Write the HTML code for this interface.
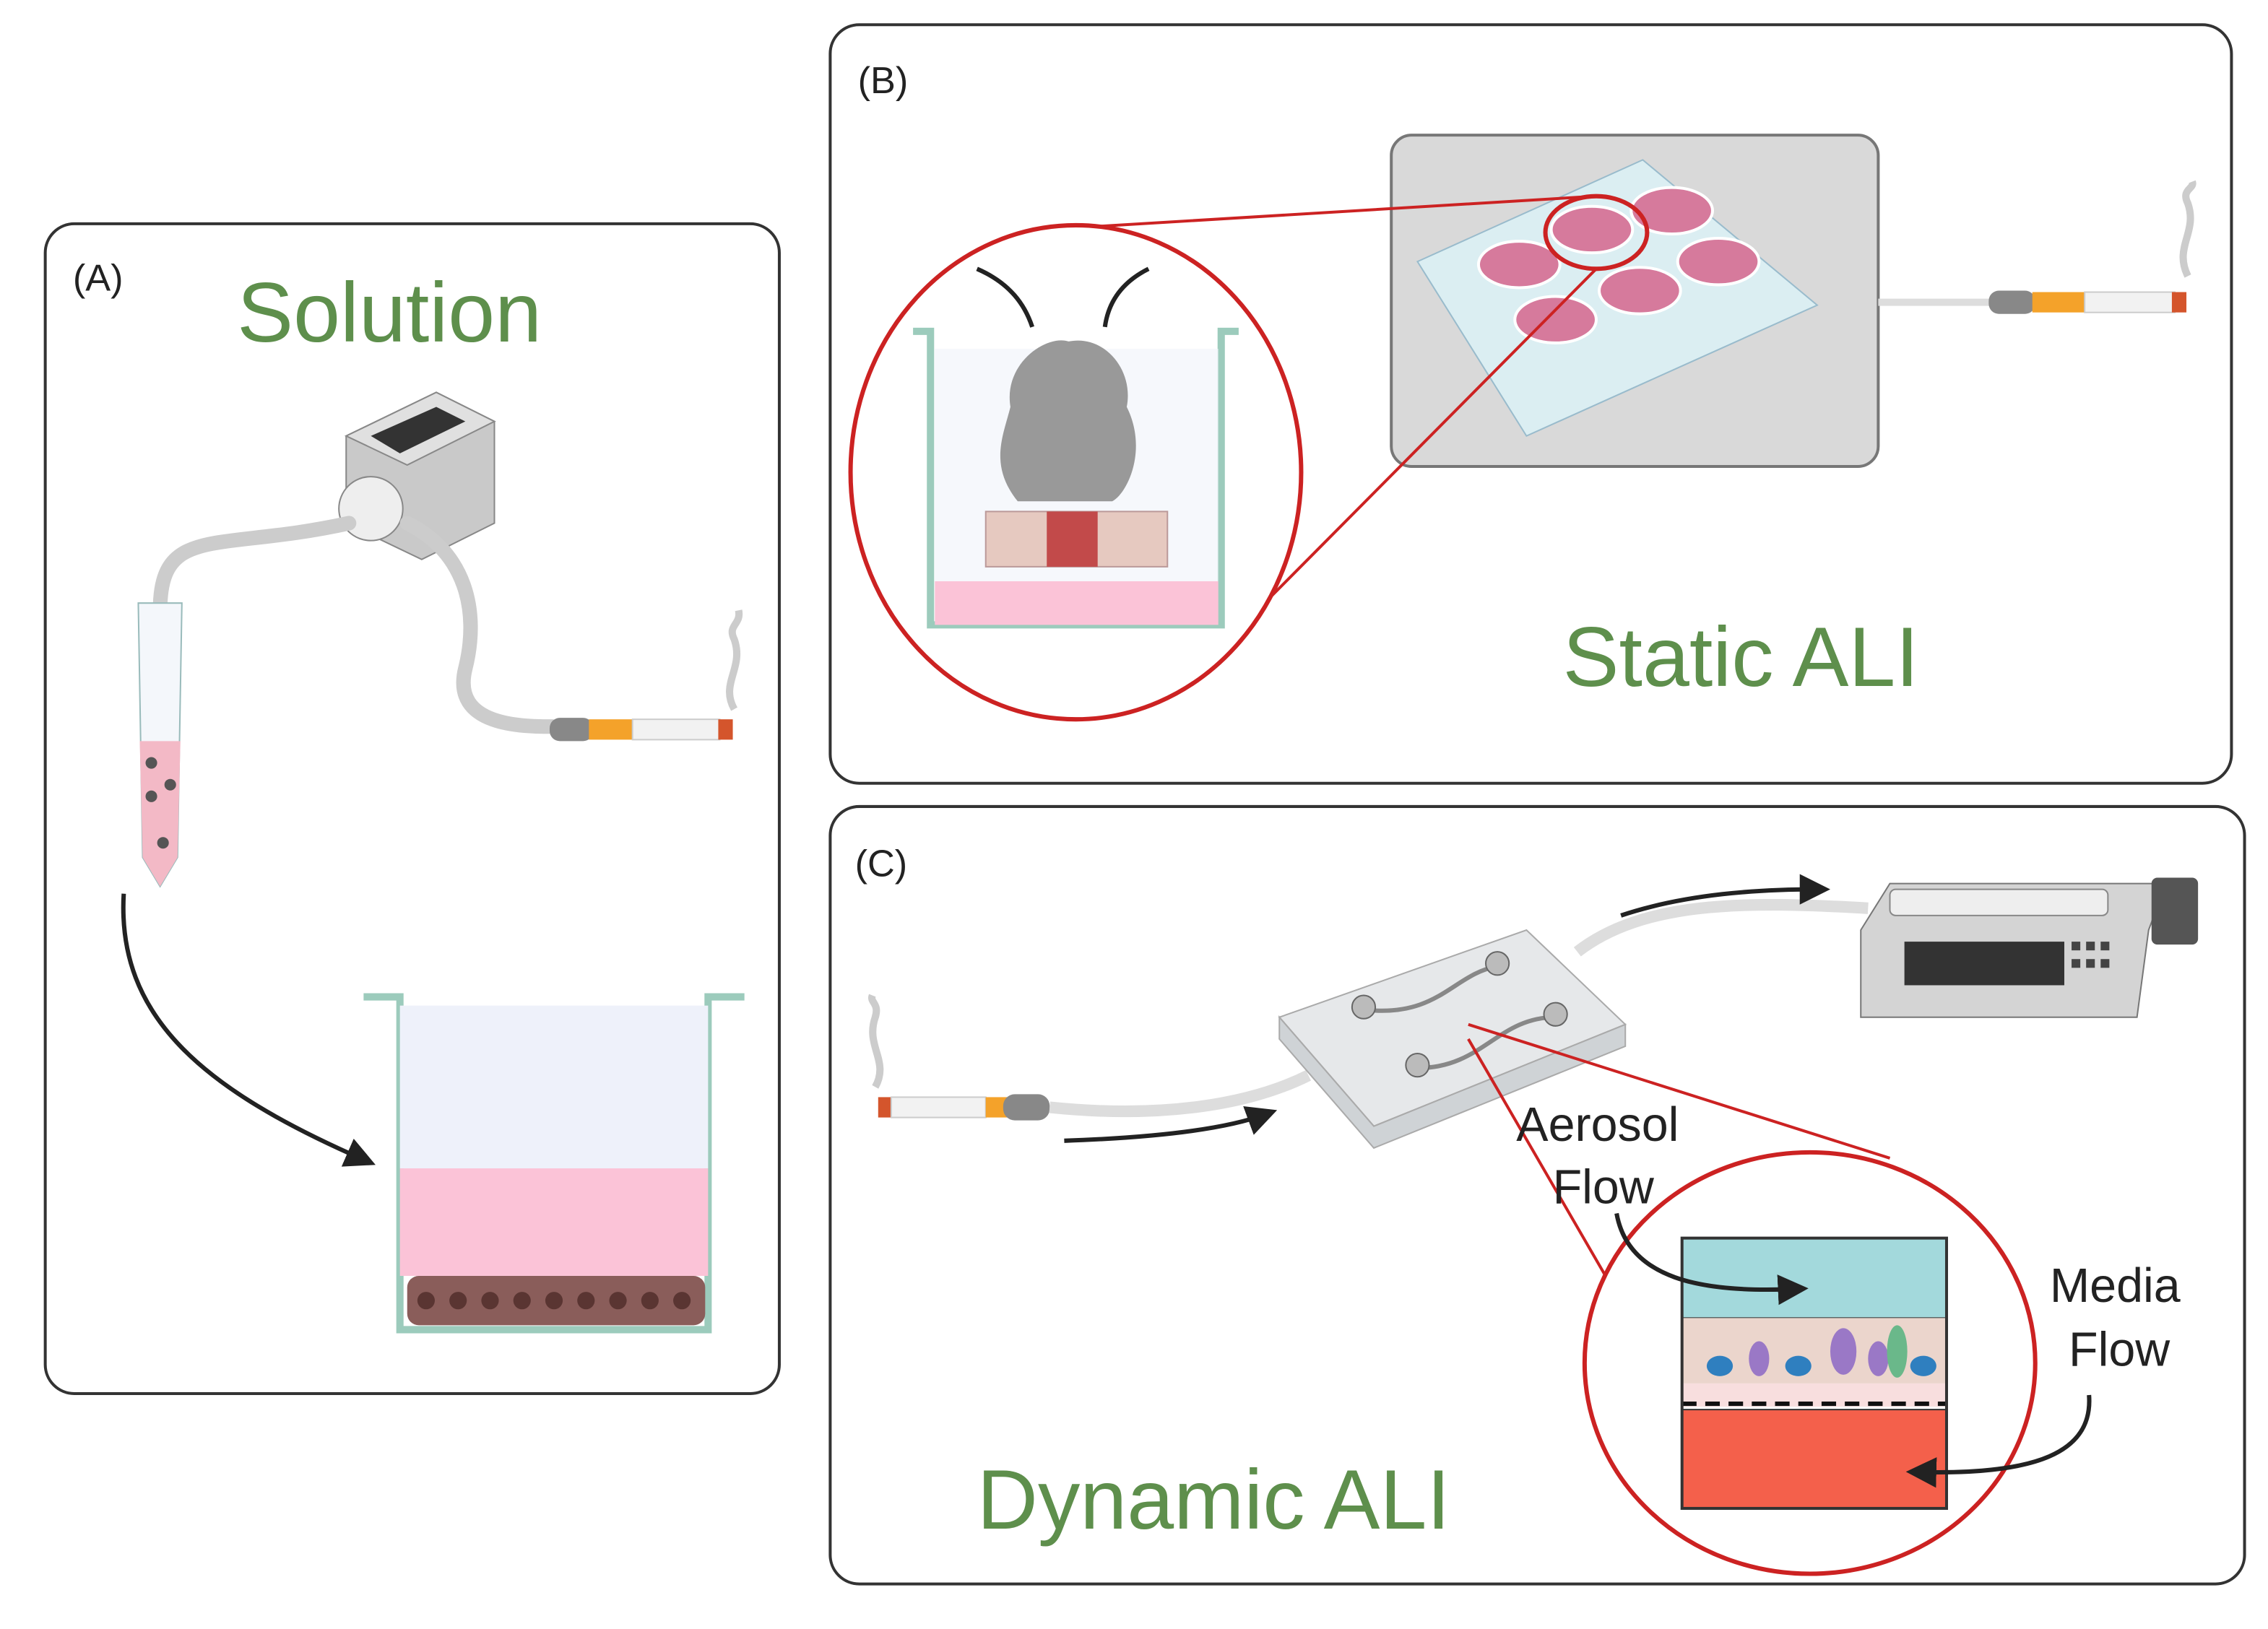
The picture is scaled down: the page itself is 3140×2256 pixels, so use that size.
<!DOCTYPE html>
<html><head><meta charset="utf-8"><style>
html,body{margin:0;padding:0;background:#fff;}
svg{display:block;}
text{font-family:"Liberation Sans",sans-serif;}
</style></head><body>
<svg width="3140" height="2256" viewBox="0 0 1560 1121" xmlns="http://www.w3.org/2000/svg">
<defs>
<marker id="ah" markerWidth="7" markerHeight="7" refX="4" refY="3.5" orient="auto" markerUnits="strokeWidth"><path d="M0,0 L7,3.5 L0,7 z" fill="#222"/></marker>
</defs>
<rect x="31" y="154" width="505" height="805" rx="20" fill="#fff" stroke="#333" stroke-width="2"/>
<rect x="571" y="17" width="964" height="522" rx="20" fill="#fff" stroke="#333" stroke-width="2"/>
<rect x="571" y="555" width="973" height="535" rx="20" fill="#fff" stroke="#333" stroke-width="2"/>

<text x="50" y="200" font-size="26" fill="#222">(A)</text>
<text x="163" y="235" font-size="58" fill="#5e8f4c">Solution</text>
<path d="M238,300 L300,270 L340,290 L340,360 L290,385 L238,360 Z" fill="#c9c9c9" stroke="#888"/>
<path d="M238,300 L300,270 L340,290 L280,320 Z" fill="#e0e0e0" stroke="#888"/>
<path d="M255,300 L300,280 L320,290 L275,312 Z" fill="#333"/>
<circle cx="255" cy="350" r="22" fill="#eee" stroke="#888"/>
<path d="M110,420 C110,360 150,380 240,360 M280,360 C320,380 330,420 320,460 C310,500 360,500 380,500" stroke="#ccc" stroke-width="10" fill="none" stroke-linecap="round"/>
<path d="M95,415 L125,415 L122,590 L110,610 L98,590 Z" fill="#f4f7fb" stroke="#9bb"/>
<path d="M96,510 L124,510 L122,590 L110,610 L98,590 Z" fill="#f3b9c6"/>
<circle cx="104" cy="525" r="4" fill="#555"/><circle cx="117" cy="540" r="4" fill="#555"/><circle cx="104" cy="548" r="4" fill="#555"/><circle cx="112" cy="580" r="4" fill="#555"/>
<rect x="378" y="494" width="30" height="16" rx="7" fill="#888"/>
<rect x="405" y="495" width="30" height="14" fill="#f4a22a"/>
<rect x="435" y="495" width="60" height="14" fill="#f2f2f2" stroke="#ccc"/>
<rect x="494" y="495" width="10" height="14" fill="#d4552c"/>
<path d="M505,488 C495,470 512,460 505,440 C500,430 510,430 508,420" stroke="#ccc" stroke-width="5" fill="none"/>
<path d="M85,615 C80,700 140,750 250,798" stroke="#222" stroke-width="3" fill="none" marker-end="url(#ah)"/>
<path d="M250,686 L275,686 L275,915 L487,915 L487,686 L512,686" fill="none" stroke="#9ccbbc" stroke-width="5"/>
<rect x="275" y="692" width="212" height="112" fill="#eef1fa"/>
<rect x="275" y="804" width="212" height="74" fill="#fbc3d7"/>
<rect x="280" y="878" width="205" height="34" rx="8" fill="#8a5d5a"/>
<g fill="#5a3532"><circle cx="293" cy="895" r="6"/><circle cx="315" cy="895" r="6"/><circle cx="337" cy="895" r="6"/><circle cx="359" cy="895" r="6"/><circle cx="381" cy="895" r="6"/><circle cx="403" cy="895" r="6"/><circle cx="425" cy="895" r="6"/><circle cx="447" cy="895" r="6"/><circle cx="469" cy="895" r="6"/></g>

<text x="590" y="64" font-size="26" fill="#222">(B)</text>
<text x="1075" y="472" font-size="58" fill="#5e8f4c">Static ALI</text>
<rect x="957" y="93" width="335" height="228" rx="14" fill="#d9d9d9" stroke="#777" stroke-width="2"/>
<path d="M975,180 L1130,110 L1250,210 L1050,300 Z" fill="#dbeef2" stroke="#9bc"/>
<g fill="#d67a9c" stroke="#fff" stroke-width="2">
<ellipse cx="1045" cy="182" rx="28" ry="16"/><ellipse cx="1095" cy="158" rx="28" ry="16"/><ellipse cx="1150" cy="145" rx="28" ry="16"/>
<ellipse cx="1070" cy="220" rx="28" ry="16"/><ellipse cx="1128" cy="200" rx="28" ry="16"/><ellipse cx="1182" cy="180" rx="28" ry="16"/></g>
<ellipse cx="1098" cy="160" rx="35" ry="25" fill="none" stroke="#c22" stroke-width="3"/>
<path d="M1292,208 L1370,208" stroke="#ddd" stroke-width="5"/>
<rect x="1368" y="200" width="32" height="16" rx="7" fill="#888"/>
<rect x="1398" y="201" width="36" height="14" fill="#f4a22a"/>
<rect x="1434" y="201" width="62" height="14" fill="#f2f2f2" stroke="#ccc"/>
<rect x="1494" y="201" width="10" height="14" fill="#d4552c"/>
<path d="M1505,190 C1495,170 1512,160 1505,140 C1500,130 1510,130 1508,125" stroke="#ccc" stroke-width="5" fill="none"/>
<path d="M735,157 L1098,135 M845,440 L1098,185" stroke="#c22" stroke-width="2" fill="none"/>
<ellipse cx="740" cy="325" rx="155" ry="170" fill="#fff" stroke="#c22" stroke-width="3"/>
<path d="M628,228 L640,228 L640,430 L840,430 L840,228 L852,228" fill="none" stroke="#9ccbbc" stroke-width="5"/>
<rect x="643" y="400" width="195" height="30" fill="#fbc3d7"/>
<rect x="643" y="240" width="195" height="160" fill="#f2f5fb" opacity="0.7"/>
<rect x="678" y="352" width="125" height="38" fill="#e6c9c0" stroke="#b99"/>
<rect x="720" y="352" width="35" height="38" fill="#c24a4a"/>
<path d="M700,345 C680,320 690,300 695,280 C690,250 720,230 735,235 C760,230 780,255 775,280 C790,310 775,340 765,345 Z" fill="#999"/>
<path d="M672,185 C695,195 705,210 710,225 M790,185 C770,195 762,210 760,225" stroke="#222" stroke-width="3" fill="none"/>

<text x="588" y="603" font-size="26" fill="#222">(C)</text>
<text x="672" y="1052" font-size="58" fill="#5e8f4c">Dynamic ALI</text>
<rect x="604" y="755" width="10" height="14" fill="#d4552c"/>
<rect x="613" y="755" width="65" height="14" fill="#f2f2f2" stroke="#ccc"/>
<rect x="678" y="755" width="15" height="14" fill="#f4a22a"/>
<rect x="690" y="753" width="32" height="18" rx="8" fill="#888"/>
<path d="M602,748 C612,730 595,720 602,700 C605,690 598,690 600,685" stroke="#ccc" stroke-width="5" fill="none"/>
<path d="M722,762 C800,770 860,760 900,740" stroke="#ddd" stroke-width="8" fill="none"/>
<path d="M732,785 C790,783 840,778 870,767" stroke="#222" stroke-width="3" fill="none" marker-end="url(#ah)"/>
<path d="M880,700 L1050,640 L1118,705 L945,775 Z" fill="#e6e8ea" stroke="#aaa"/>
<path d="M880,700 L880,715 L945,790 L1118,720 L1118,705 L945,775 Z" fill="#cfd3d6" stroke="#aaa"/>
<path d="M940,695 C990,700 1000,670 1030,665 M975,735 C1020,735 1030,700 1070,700" stroke="#888" stroke-width="3" fill="none"/>
<g fill="#bbb" stroke="#666"><circle cx="938" cy="693" r="8"/><circle cx="1030" cy="663" r="8"/><circle cx="975" cy="733" r="8"/><circle cx="1070" cy="698" r="8"/></g>
<path d="M1085,655 C1130,620 1200,620 1285,625" stroke="#ddd" stroke-width="8" fill="none"/>
<path d="M1115,630 C1160,615 1210,612 1250,612" stroke="#222" stroke-width="3" fill="none" marker-end="url(#ah)"/>
<path d="M1280,640 L1300,608 L1490,608 L1478,640 L1470,700 L1280,700 Z" fill="#d4d4d4" stroke="#777"/>
<rect x="1300" y="612" width="150" height="18" rx="4" fill="#eee" stroke="#888"/>
<rect x="1310" y="648" width="110" height="30" fill="#333"/>
<rect x="1480" y="604" width="32" height="46" rx="4" fill="#555"/>
<g fill="#444"><rect x="1425" y="648" width="6" height="6"/><rect x="1435" y="648" width="6" height="6"/><rect x="1445" y="648" width="6" height="6"/><rect x="1425" y="660" width="6" height="6"/><rect x="1435" y="660" width="6" height="6"/><rect x="1445" y="660" width="6" height="6"/></g>
<path d="M1010,715 L1120,905 M1010,705 L1300,797" stroke="#c22" stroke-width="2" fill="none"/>
<ellipse cx="1245" cy="938" rx="155" ry="145" fill="#fff" stroke="#c22" stroke-width="3"/>
<rect x="1157" y="852" width="182" height="55" fill="#a3d9dc" stroke="#333"/>
<rect x="1157" y="907" width="182" height="45" fill="#ebd5cc"/>
<g fill="#2f7fbf"><ellipse cx="1183" cy="940" rx="9" ry="7"/><ellipse cx="1237" cy="940" rx="9" ry="7"/><ellipse cx="1323" cy="940" rx="9" ry="7"/></g>
<g fill="#9a78c6"><ellipse cx="1210" cy="935" rx="7" ry="12"/><ellipse cx="1268" cy="930" rx="9" ry="16"/><ellipse cx="1292" cy="935" rx="7" ry="12"/></g>
<ellipse cx="1305" cy="930" rx="7" ry="18" fill="#6ab88a"/>
<rect x="1157" y="952" width="182" height="16" fill="#f8dede"/>
<line x1="1157" y1="966" x2="1339" y2="966" stroke="#111" stroke-width="3" stroke-dasharray="10,6"/>
<rect x="1157" y="970" width="182" height="68" fill="#f4604b" stroke="#333"/>
<rect x="1157" y="852" width="182" height="186" fill="none" stroke="#333" stroke-width="2"/>
<path d="M1112,835 C1120,880 1170,890 1235,887" stroke="#222" stroke-width="3" fill="none" marker-end="url(#ah)"/>
<path d="M1437,960 C1440,1000 1400,1015 1320,1013" stroke="#222" stroke-width="3" fill="none" marker-end="url(#ah)"/>
<text x="1043" y="785" font-size="33" fill="#222">Aerosol</text>
<text x="1068" y="828" font-size="33" fill="#222">Flow</text>
<text x="1410" y="896" font-size="33" fill="#222">Media</text>
<text x="1423" y="940" font-size="33" fill="#222">Flow</text>
</svg>
</body></html>
